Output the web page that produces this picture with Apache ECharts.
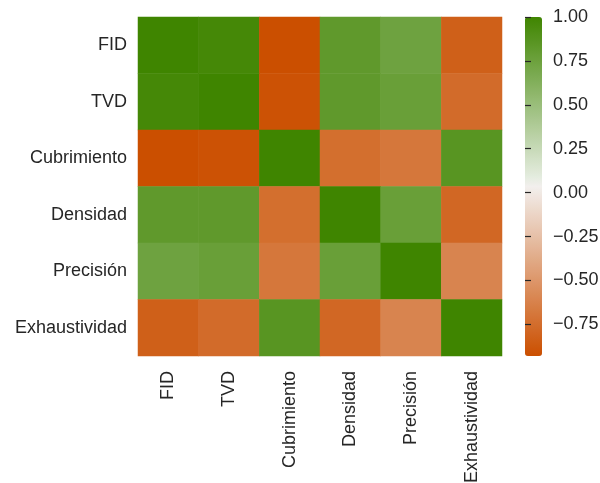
<!DOCTYPE html>
<html>
<head>
<meta charset="utf-8">
<script src="https://cdn.jsdelivr.net/npm/echarts@6/dist/echarts.min.js"></script>
<style>
  html, body { margin: 0; padding: 0; background: #ffffff; }
  #chart { width: 600px; height: 483px; }
</style>
</head>
<body>
<div id="chart"></div>
<script>
// Metric names (rows and columns of the correlation matrix)
const metrics = ['FID', 'TVD', 'Cubrimiento', 'Densidad', 'Precisión', 'Exhaustividad'];

// Correlation matrix, one row per metric
const rowFID          = [ 1.00,  0.97, -0.93,  0.82,  0.74, -0.83];
const rowTVD          = [ 0.97,  1.00, -0.91,  0.82,  0.77, -0.76];
const rowCubrimiento  = [-0.93, -0.91,  1.00, -0.74, -0.69,  0.86];
const rowDensidad     = [ 0.82,  0.82, -0.74,  1.00,  0.77, -0.785];
const rowPrecision    = [ 0.74,  0.77, -0.69,  0.77,  1.00, -0.61];
const rowExhaustiv    = [-0.83, -0.76,  0.86, -0.785, -0.61, 1.00];
const matrix = [rowFID, rowTVD, rowCubrimiento, rowDensidad, rowPrecision, rowExhaustiv];

// Colour bar range and tick labels
const colorMin = -0.93;
const colorMax = 1.00;
const colorTicks = [-0.75, -0.50, -0.25, 0.00, 0.25, 0.50, 0.75, 1.00];

// Diverging palette: orange -> light grey | light grey -> green, linear in RGB per half
const negEnd = [203, 79, 0];
const negMid = [242, 239, 237];
const posMid = [238, 242, 236];
const posEnd = [63, 133, 0];
function lerp(a, b, t) {
  return 'rgb(' + a.map((v, i) => Math.round(v + (b[i] - v) * t)).join(',') + ')';
}
const stops = [];
const N = 40;
for (let i = 0; i <= N; i++) {
  const f = i / N;
  stops.push(f <= 0.5 ? lerp(negEnd, negMid, f / 0.5) : lerp(posMid, posEnd, (f - 0.5) / 0.5));
}

const cells = [];
matrix.forEach((row, r) => row.forEach((v, c) => cells.push([c, r, v])));

const textColor = '#262626';
const font = 'Liberation Sans, Arial, sans-serif';
const fontSize = 18;

const chart = echarts.init(document.getElementById('chart'), null, { renderer: 'canvas' });
chart.setOption({
  animation: false,
  backgroundColor: '#ffffff',
  grid: [
    { left: 138, top: 17, width: 364, height: 339, outerBoundsMode: 'none', containLabel: false },
    { left: 525, top: 17, width: 17, height: 339, outerBoundsMode: 'none', containLabel: false }
  ],
  xAxis: [
    {
      type: 'category', data: metrics, gridIndex: 0,
      axisLine: { show: false }, axisTick: { show: false }, splitLine: { show: false },
      axisLabel: { rotate: 90, margin: 15, color: textColor, fontSize: fontSize, fontFamily: font }
    },
    { type: 'value', gridIndex: 1, show: false, min: 0, max: 1 }
  ],
  yAxis: [
    {
      type: 'category', data: metrics, gridIndex: 0, inverse: true,
      axisLine: { show: false }, axisTick: { show: false }, splitLine: { show: false },
      axisLabel: { margin: 11, color: textColor, fontSize: fontSize, fontFamily: font }
    },
    {
      type: 'value', gridIndex: 1, position: 'right', min: colorMin, max: colorMax,
      axisLine: { show: true, lineStyle: { color: 'rgba(0,0,0,0)' } },
      splitLine: { show: false },
      axisTick: { show: true, length: 6, customValues: colorTicks, lineStyle: { color: textColor, width: 1.2 } },
      axisLabel: {
        show: true, margin: 11, color: textColor, fontSize: fontSize, fontFamily: font,
        customValues: colorTicks,
        formatter: v => (v < 0 ? '\u2212' : '') + Math.abs(v).toFixed(2)
      },
      z: 10
    }
  ],
  visualMap: {
    type: 'continuous', min: colorMin, max: colorMax, seriesIndex: 0,
    calculable: false, realtime: false, show: true,
    left: 525, top: 17, itemWidth: 17, itemHeight: 339, padding: 0,
    text: ['', ''], showLabel: false,
    inRange: { color: stops }
  },
  series: [
    {
      type: 'heatmap', xAxisIndex: 0, yAxisIndex: 0, data: cells,
      itemStyle: { borderWidth: 0 }, emphasis: { disabled: true }
    }
  ]
});
</script>
</body>
</html>
